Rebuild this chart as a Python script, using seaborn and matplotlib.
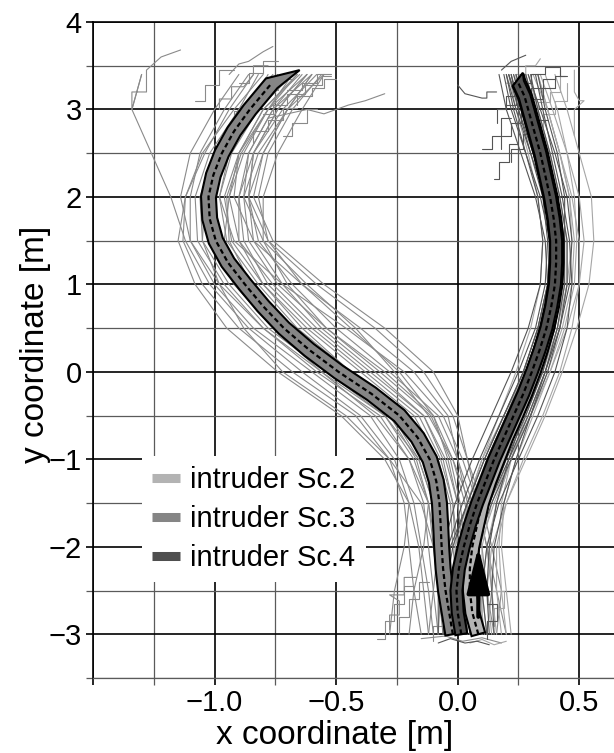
import numpy as np
import pandas as pd
import matplotlib
matplotlib.use("Agg")
import matplotlib.pyplot as plt
import seaborn as sns
from matplotlib.lines import Line2D
from matplotlib.ticker import FixedLocator, FixedFormatter, MultipleLocator

# ---------------- data ----------------
SCENARIOS = ["intruder Sc.2", "intruder Sc.3", "intruder Sc.4"]
COLORS = {"intruder Sc.2": "#b3b3b3", "intruder Sc.3": "#858585", "intruder Sc.4": "#4f4f4f"}
THIN_COLORS = {"intruder Sc.2": "#a6a6a6", "intruder Sc.3": "#8a8a8a", "intruder Sc.4": "#555555"}

Y_LEVELS = [-3.0, -2.5, -2.0, -1.5, -1.0, -0.5, 0.0, 0.5, 1.0, 1.5, 2.0, 2.5, 3.0, 3.4]

SC3_TRAJ = [
    [0.00, -0.02, -0.04, -0.05, -0.10, -0.20, -0.44, -0.66, -0.82, -0.95, -0.98, -0.93, -0.82, -0.68],
    [0.05, 0.03, 0.02, 0.00, -0.05, -0.14, -0.36, -0.58, -0.76, -0.90, -0.94, -0.90, -0.80, -0.66],
    [0.08, 0.06, 0.05, 0.04, 0.00, -0.08, -0.28, -0.50, -0.68, -0.82, -0.86, -0.84, -0.74, -0.62],
    [-0.08, -0.10, -0.12, -0.14, -0.20, -0.32, -0.58, -0.80, -0.96, -1.07, -1.08, -1.02, -0.90, -0.76],
    [-0.15, -0.18, -0.20, -0.22, -0.28, -0.42, -0.68, -0.90, -1.05, -1.13, -1.12, -1.05, -0.92, -0.80],
    [0.10, 0.10, 0.08, 0.05, -0.02, -0.12, -0.26, -0.42, -0.62, -0.80, -0.88, -0.86, -0.76, -0.60],
    [-0.05, -0.06, -0.08, -0.10, -0.16, -0.27, -0.52, -0.74, -0.90, -1.02, -1.05, -1.00, -0.88, -0.72],
    [0.12, 0.14, 0.12, 0.08, 0.02, -0.06, -0.22, -0.46, -0.72, -0.92, -0.98, -0.94, -0.83, -0.70],
    [-0.28, -0.26, -0.22, -0.20, -0.30, -0.48, -0.74, -0.95, -1.08, -1.15, -1.12, -1.04, -0.94, -0.84],
    [0.02, 0.00, -0.02, -0.03, -0.08, -0.18, -0.40, -0.62, -0.80, -0.93, -0.96, -0.90, -0.78, -0.62],
    [-0.10, -0.12, -0.15, -0.18, -0.24, -0.36, -0.60, -0.84, -1.00, -1.10, -1.10, -1.06, -0.96, -0.86],
    [0.06, 0.04, 0.02, 0.00, -0.04, -0.10, -0.30, -0.54, -0.74, -0.86, -0.88, -0.82, -0.70, -0.55],
    [-0.02, -0.06, -0.10, -0.15, -0.28, -0.46, -0.72, -0.88, -0.98, -1.05, -1.04, -0.98, -0.86, -0.74],
    [0.15, 0.12, 0.10, 0.06, 0.00, -0.04, -0.18, -0.40, -0.64, -0.84, -0.92, -0.90, -0.80, -0.65],
    [-0.04, -0.04, -0.06, -0.08, -0.12, -0.24, -0.46, -0.70, -0.86, -0.98, -1.00, -0.96, -0.86, -0.78],
    [-0.12, -0.14, -0.16, -0.20, -0.26, -0.40, -0.64, -0.86, -1.02, -1.12, -1.18, -1.26, -1.34, -1.30],
    [0.02, 0.00, -0.01, -0.02, -0.06, -0.14, -0.34, -0.56, -0.72, -0.84, -0.86, -0.80, -0.70, -0.60],
    [0.04, 0.02, 0.00, -0.02, -0.07, -0.16, -0.38, -0.60, -0.78, -0.88, -0.90, -0.86, -0.76, -0.64],
    [-0.06, -0.08, -0.10, -0.12, -0.17, -0.28, -0.50, -0.70, -0.85, -0.94, -0.95, -0.89, -0.78, -0.66],
    [0.10, 0.08, 0.06, 0.03, -0.02, -0.10, -0.24, -0.44, -0.64, -0.78, -0.82, -0.78, -0.68, -0.56],
    [-0.20, -0.18, -0.14, -0.12, -0.20, -0.34, -0.56, -0.76, -0.92, -1.02, -1.04, -0.97, -0.86, -0.72],
    [0.00, -0.03, -0.06, -0.08, -0.13, -0.22, -0.44, -0.64, -0.80, -0.90, -0.90, -0.84, -0.72, -0.58],
    [0.07, 0.05, 0.03, 0.01, -0.03, -0.11, -0.32, -0.54, -0.70, -0.80, -0.80, -0.74, -0.64, -0.55],
    [-0.12, -0.10, -0.08, -0.10, -0.16, -0.30, -0.54, -0.78, -0.94, -1.05, -1.06, -1.00, -0.90, -0.82],
    [0.16, 0.18, 0.14, 0.10, 0.04, -0.02, -0.14, -0.34, -0.58, -0.78, -0.86, -0.84, -0.74, -0.62],
    [-0.03, -0.05, -0.07, -0.09, -0.14, -0.25, -0.48, -0.72, -0.88, -0.96, -0.94, -0.88, -0.78, -0.68],
    [0.20, 0.16, 0.12, 0.08, 0.04, 0.00, -0.10, -0.30, -0.55, -0.76, -0.84, -0.80, -0.70, -0.60],
    [-0.08, -0.07, -0.09, -0.12, -0.18, -0.30, -0.56, -0.80, -0.98, -1.10, -1.14, -1.10, -1.00, -0.90],
]

SC4_TRAJ = [
    [0.00, -0.02, 0.00, 0.06, 0.13, 0.21, 0.28, 0.34, 0.38, 0.39, 0.37, 0.33, 0.28, 0.24],
    [0.04, 0.03, 0.05, 0.11, 0.19, 0.27, 0.34, 0.40, 0.43, 0.43, 0.40, 0.36, 0.31, 0.27],
    [-0.05, -0.06, -0.04, 0.02, 0.09, 0.17, 0.25, 0.32, 0.36, 0.37, 0.35, 0.30, 0.25, 0.22],
    [0.08, 0.06, 0.08, 0.14, 0.22, 0.30, 0.37, 0.42, 0.45, 0.45, 0.42, 0.38, 0.33, 0.30],
    [-0.08, -0.08, -0.06, -0.01, 0.06, 0.14, 0.22, 0.29, 0.34, 0.35, 0.33, 0.28, 0.23, 0.20],
    [0.02, 0.00, 0.03, 0.09, 0.16, 0.25, 0.33, 0.39, 0.42, 0.42, 0.39, 0.35, 0.30, 0.26],
    [0.12, 0.10, 0.12, 0.17, 0.25, 0.33, 0.40, 0.45, 0.47, 0.46, 0.43, 0.39, 0.35, 0.32],
    [-0.02, -0.04, -0.03, 0.04, 0.11, 0.19, 0.27, 0.33, 0.37, 0.38, 0.36, 0.31, 0.26, 0.22],
    [0.06, 0.05, 0.06, 0.12, 0.18, 0.26, 0.32, 0.37, 0.41, 0.44, 0.44, 0.41, 0.36, 0.33],
    [0.15, 0.14, 0.15, 0.19, 0.24, 0.30, 0.36, 0.41, 0.44, 0.44, 0.41, 0.37, 0.32, 0.28],
    [-0.04, -0.02, 0.02, 0.08, 0.14, 0.22, 0.30, 0.36, 0.40, 0.40, 0.37, 0.32, 0.26, 0.21],
    [0.03, 0.01, 0.02, 0.07, 0.14, 0.22, 0.30, 0.36, 0.39, 0.38, 0.34, 0.28, 0.22, 0.19],
    [0.10, 0.08, 0.09, 0.13, 0.20, 0.28, 0.35, 0.40, 0.42, 0.41, 0.37, 0.31, 0.25, 0.21],
    [-0.06, -0.05, -0.02, 0.04, 0.11, 0.19, 0.27, 0.33, 0.37, 0.36, 0.32, 0.26, 0.20, 0.17],
    [0.00, -0.01, 0.01, 0.06, 0.12, 0.20, 0.28, 0.35, 0.40, 0.42, 0.40, 0.35, 0.29, 0.25],
    [0.05, 0.04, 0.07, 0.13, 0.21, 0.29, 0.36, 0.42, 0.46, 0.47, 0.45, 0.40, 0.34, 0.29],
    [0.09, 0.06, 0.05, 0.08, 0.14, 0.22, 0.30, 0.37, 0.41, 0.41, 0.38, 0.33, 0.27, 0.23],
    [-0.01, 0.02, 0.06, 0.12, 0.19, 0.27, 0.34, 0.39, 0.42, 0.42, 0.39, 0.34, 0.29, 0.26],
    [0.13, 0.12, 0.13, 0.16, 0.21, 0.27, 0.33, 0.38, 0.41, 0.40, 0.36, 0.30, 0.24, 0.20],
]

SC2_TRAJ = [
    [0.08, 0.05, 0.06, 0.10, 0.17, 0.25, 0.32, 0.38, 0.41, 0.41, 0.39, 0.35, 0.30, 0.26],
    [0.12, 0.10, 0.10, 0.14, 0.21, 0.29, 0.36, 0.42, 0.45, 0.45, 0.42, 0.38, 0.33, 0.29],
    [0.04, 0.02, 0.03, 0.07, 0.13, 0.20, 0.27, 0.33, 0.37, 0.38, 0.36, 0.32, 0.27, 0.24],
    [0.18, 0.16, 0.16, 0.20, 0.27, 0.35, 0.42, 0.47, 0.50, 0.50, 0.47, 0.42, 0.37, 0.33],
    [0.00, -0.02, -0.01, 0.04, 0.10, 0.17, 0.24, 0.30, 0.34, 0.35, 0.33, 0.29, 0.24, 0.21],
    [0.14, 0.12, 0.14, 0.20, 0.28, 0.36, 0.43, 0.49, 0.54, 0.56, 0.55, 0.50, 0.45, 0.40],
    [0.10, 0.08, 0.08, 0.12, 0.18, 0.26, 0.34, 0.40, 0.43, 0.42, 0.40, 0.36, 0.31, 0.28],
    [0.06, 0.03, 0.01, 0.04, 0.10, 0.19, 0.28, 0.35, 0.39, 0.40, 0.37, 0.33, 0.28, 0.24],
    [0.20, 0.18, 0.17, 0.18, 0.22, 0.28, 0.35, 0.41, 0.45, 0.47, 0.46, 0.42, 0.37, 0.31],
    [0.02, 0.04, 0.08, 0.13, 0.19, 0.26, 0.33, 0.39, 0.42, 0.43, 0.41, 0.37, 0.32, 0.28],
    [0.16, 0.14, 0.13, 0.16, 0.22, 0.29, 0.36, 0.41, 0.44, 0.43, 0.39, 0.33, 0.27, 0.23],
    [0.05, 0.06, 0.09, 0.15, 0.22, 0.30, 0.37, 0.43, 0.47, 0.48, 0.46, 0.42, 0.37, 0.33],
    [0.11, 0.09, 0.07, 0.09, 0.14, 0.21, 0.29, 0.36, 0.41, 0.42, 0.40, 0.36, 0.31, 0.27],
    [0.22, 0.20, 0.18, 0.19, 0.24, 0.31, 0.38, 0.44, 0.48, 0.49, 0.48, 0.45, 0.41, 0.36],
    [0.02, 0.00, 0.00, 0.05, 0.12, 0.20, 0.28, 0.34, 0.38, 0.39, 0.37, 0.33, 0.29, 0.26],
    [0.09, 0.10, 0.12, 0.16, 0.22, 0.30, 0.38, 0.45, 0.50, 0.52, 0.50, 0.45, 0.39, 0.34],
]

# jagged (noisy tracking) pieces: (scenario, x list, y list)
JAGGED = [
    ("intruder Sc.3", [-0.92, -0.92, -0.86, -0.86, -0.80, -0.80, -0.74, -0.74, -0.68], [2.85, 2.98, 2.98, 3.10, 3.10, 3.22, 3.22, 3.35, 3.35]),
    ("intruder Sc.3", [-0.80, -0.76, -0.76, -0.70, -0.70, -0.63, -0.63, -0.56, -0.56, -0.52], [2.95, 2.95, 3.05, 3.05, 3.18, 3.18, 3.28, 3.28, 3.38, 3.38]),
    ("intruder Sc.3", [-0.98, -0.98, -0.93, -0.93, -0.88, -0.84, -0.84, -0.78], [3.00, 3.12, 3.12, 3.26, 3.26, 3.40, 3.50, 3.50]),
    ("intruder Sc.3", [-0.78, -0.62, -0.55, -0.45, -0.38, -0.30], [2.90, 3.00, 2.95, 3.05, 3.10, 3.18]),
    ("intruder Sc.3", [-0.72, -0.68, -0.68, -0.62, -0.62, -0.58], [2.70, 2.70, 2.85, 2.85, 3.00, 3.00]),
    ("intruder Sc.3", [-1.30, -1.34, -1.34, -1.28, -1.28, -1.22, -1.14], [3.40, 3.00, 3.20, 3.20, 3.45, 3.60, 3.68]),
    ("intruder Sc.3", [-0.66, -0.66, -0.60, -0.60, -0.55, -0.55, -0.50], [3.05, 3.15, 3.15, 3.25, 3.25, 3.35, 3.35]),
    ("intruder Sc.3", [-0.90, -0.86, -0.86, -0.80, -0.80, -0.74], [3.30, 3.30, 3.42, 3.42, 3.55, 3.55]),
    ("intruder Sc.3", [-0.84, -0.84, -0.78, -0.78, -0.72, -0.72, -0.66], [2.62, 2.75, 2.75, 2.88, 2.88, 3.02, 3.02]),
    ("intruder Sc.3", [-0.70, -0.64, -0.64, -0.58, -0.58, -0.52], [3.22, 3.22, 3.30, 3.30, 3.40, 3.40]),
    ("intruder Sc.3", [-0.94, -0.90, -0.86, -0.80, -0.76], [3.40, 3.52, 3.55, 3.66, 3.72]),
    ("intruder Sc.3", [-1.08, -1.04, -1.04, -0.98, -0.98, -0.92], [3.10, 3.10, 3.28, 3.28, 3.45, 3.45]),
    ("intruder Sc.3", [-0.33, -0.30, -0.30, -0.26, -0.26, -0.22, -0.22, -0.18], [-3.05, -3.05, -2.85, -2.85, -2.65, -2.65, -2.45, -2.45]),
    ("intruder Sc.3", [-0.24, -0.24, -0.20, -0.20, -0.16, -0.16, -0.12], [-3.00, -2.80, -2.80, -2.60, -2.60, -2.40, -2.40]),
    ("intruder Sc.3", [-0.15, -0.05, 0.02, 0.10, 0.18], [-3.05, -3.02, -3.08, -3.04, -3.10]),
    ("intruder Sc.3", [-0.28, -0.28, -0.24, -0.24, -0.28, -0.22, -0.22, -0.17], [-2.95, -2.78, -2.78, -2.62, -2.55, -2.55, -2.35, -2.35]),
    ("intruder Sc.3", [-0.10, -0.10, -0.06, -0.06, -0.02, -0.02], [-3.08, -2.90, -2.90, -2.72, -2.72, -2.55]),
    ("intruder Sc.4", [0.18, 0.18, 0.22, 0.22, 0.26, 0.26, 0.30], [2.55, 2.70, 2.70, 2.85, 2.85, 3.00, 3.00]),
    ("intruder Sc.4", [0.20, 0.24, 0.24, 0.30, 0.30, 0.35, 0.35, 0.40], [3.05, 3.05, 3.15, 3.15, 3.25, 3.25, 3.35, 3.35]),
    ("intruder Sc.2", [0.28, 0.33, 0.33, 0.38, 0.38, 0.42, 0.42], [2.95, 2.95, 3.08, 3.08, 3.20, 3.20, 3.45]),
    ("intruder Sc.4", [0.15, 0.17, 0.17, 0.21, 0.21, 0.25], [2.20, 2.20, 2.40, 2.40, 2.60, 2.60]),
    ("intruder Sc.2", [0.48, 0.48, 0.52, 0.50, 0.48, 0.48], [2.70, 3.00, 3.10, 3.10, 3.20, 3.45]),
    ("intruder Sc.4", [0.00, 0.03, 0.10, 0.12, 0.12, 0.16], [3.28, 3.18, 3.13, 3.13, 3.20, 3.20]),
    ("intruder Sc.4", [0.22, 0.22, 0.27, 0.27, 0.32, 0.32, 0.37], [2.40, 2.55, 2.55, 2.72, 2.72, 2.88, 2.88]),
    ("intruder Sc.4", [0.30, 0.30, 0.35, 0.35, 0.40, 0.40, 0.44], [3.00, 3.12, 3.12, 3.25, 3.25, 3.38, 3.38]),
    ("intruder Sc.4", [0.16, 0.16, 0.20, 0.20, 0.25, 0.25], [2.85, 3.00, 3.00, 3.15, 3.15, 3.35]),
    ("intruder Sc.4", [0.26, 0.30, 0.30, 0.36, 0.36, 0.42, 0.42, 0.45], [3.30, 3.30, 3.40, 3.40, 3.48, 3.48, 3.38, 3.38]),
    ("intruder Sc.2", [0.35, 0.35, 0.40, 0.40, 0.45, 0.45], [2.80, 2.95, 2.95, 3.10, 3.10, 3.30]),
    ("intruder Sc.2", [0.20, 0.24, 0.24, 0.28, 0.28, 0.32, 0.34], [3.30, 3.30, 3.40, 3.40, 3.50, 3.50, 3.58]),
    ("intruder Sc.4", [0.10, 0.14, 0.14, 0.18, 0.18, 0.22], [2.55, 2.55, 2.70, 2.70, 2.90, 2.90]),
    ("intruder Sc.4", [0.18, 0.22, 0.28], [3.45, 3.55, 3.62]),
    ("intruder Sc.2", [0.15, 0.15, 0.19, 0.19, 0.14, 0.14], [-2.90, -2.70, -2.70, -2.50, -2.50, -2.35]),
    ("intruder Sc.4", [-0.08, -0.03, 0.03, 0.08, 0.13], [-3.10, -3.05, -3.10, -3.08, -3.12]),
    ("intruder Sc.4", [0.12, 0.12, 0.16, 0.16, 0.12, 0.12], [-3.05, -2.85, -2.85, -2.65, -2.65, -2.45]),
    ("intruder Sc.2", [0.05, 0.10, 0.15, 0.20], [-3.10, -3.06, -3.12, -3.08]),
]

MEAN_Y = [-3.0, -2.75, -2.5, -2.25, -2.0, -1.75, -1.5, -1.25, -1.0, -0.75, -0.5, -0.25, 0.0,
          0.25, 0.5, 0.75, 1.0, 1.25, 1.5, 1.75, 2.0, 2.25, 2.5, 2.75, 3.0, 3.15, 3.3]
MEAN_SC3 = [-0.02, -0.035, -0.05, -0.06, -0.066, -0.07, -0.075, -0.088, -0.115, -0.165, -0.24, -0.355, -0.49,
            -0.61, -0.715, -0.80, -0.875, -0.945, -0.995, -1.02, -1.025, -1.005, -0.97, -0.92, -0.855, -0.81, -0.765]
MEAN_SC4 = [0.015, 0.0, -0.005, 0.005, 0.025, 0.05, 0.08, 0.115, 0.15, 0.19, 0.23, 0.27, 0.305,
            0.337, 0.365, 0.385, 0.40, 0.405, 0.405, 0.395, 0.38, 0.36, 0.34, 0.315, 0.29, 0.275, 0.25]
MEAN_SC2 = [0.085, 0.06, 0.05, 0.05, 0.06, 0.08, 0.10, 0.13, 0.165, 0.20, 0.24, 0.278, 0.312,
            0.342, 0.368, 0.388, 0.402, 0.407, 0.407, 0.397, 0.382, 0.362, 0.342, 0.317, 0.292, 0.277, 0.252]
TIPS = {"intruder Sc.3": (-0.65, 3.45), "intruder Sc.4": (0.268, 3.42), "intruder Sc.2": (0.27, 3.41)}

ARROW_X = 0.085
ARROW_Y0, ARROW_Y1 = -2.80, -2.0

# ---------------- figure ----------------
sns.set_theme(style="white")
plt.rcParams["font.family"] = ["Liberation Sans", "DejaVu Sans"]
for key in ("text.color", "axes.labelcolor", "xtick.color", "ytick.color"):
    plt.rcParams[key] = "black"

fig = plt.figure(figsize=(6.14, 7.53), dpi=100)
ax = fig.add_axes([93 / 614, 1 - 678 / 753, (614 - 93) / 614, (678 - 22) / 753])
ax.set_xlim(-1.5, 0.643)
ax.set_ylim(-3.5, 4.0)

# long-form table of thin trajectories
rows = []
tid = 0
for scen, trajs in (("intruder Sc.3", SC3_TRAJ), ("intruder Sc.2", SC2_TRAJ), ("intruder Sc.4", SC4_TRAJ)):
    for tr in trajs:
        for i, (xv, yv) in enumerate(zip(tr, Y_LEVELS)):
            rows.append({"x": xv, "y": yv, "traj": tid, "order": i, "scenario": scen})
        tid += 1
for scen, xs, ys in JAGGED:
    for i, (xv, yv) in enumerate(zip(xs, ys)):
        rows.append({"x": xv, "y": yv, "traj": tid, "order": i, "scenario": scen})
    tid += 1
df = pd.DataFrame(rows)

sns.lineplot(data=df, x="x", y="y", units="traj", estimator=None, sort=False,
             hue="scenario", palette=THIN_COLORS, lw=0.8, legend=False, ax=ax, zorder=2)
ax.set_xlim(-1.5, 0.643)
ax.set_ylim(-3.5, 4.0)


def band(xs, ys, tip, hw_px, color, z):
    pts = ax.transData.transform(np.column_stack([xs, ys]))
    d = np.gradient(pts, axis=0)
    d /= np.linalg.norm(d, axis=1)[:, None]
    nrm = np.column_stack([-d[:, 1], d[:, 0]])
    left = pts + nrm * hw_px
    right = pts - nrm * hw_px
    tip_px = ax.transData.transform([tip])
    poly = ax.transData.inverted().transform(np.vstack([left, tip_px, right[::-1]]))
    ax.fill(poly[:, 0], poly[:, 1], facecolor=color, edgecolor="black", lw=1.5, zorder=z)
    ax.plot(xs, ys, color="black", lw=1.6, ls=(0, (2.2, 1.4)), zorder=z + 0.1)


band(MEAN_SC3, MEAN_Y, TIPS["intruder Sc.3"], 7.5, COLORS["intruder Sc.3"], 4)
band(MEAN_SC2, MEAN_Y, TIPS["intruder Sc.2"], 7.0, COLORS["intruder Sc.2"], 5)
band(MEAN_SC4, MEAN_Y, TIPS["intruder Sc.4"], 6.0, COLORS["intruder Sc.4"], 6)

ax.annotate("", xy=(ARROW_X, ARROW_Y1), xytext=(ARROW_X, ARROW_Y0),
            arrowprops=dict(arrowstyle="-|>,head_length=1.4,head_width=0.35", lw=3,
                            color="black", mutation_scale=20, shrinkA=0, shrinkB=0),
            zorder=8)

# ticks & grid
ax.xaxis.set_major_locator(FixedLocator([-1.5, -1.0, -0.5, 0.0, 0.5]))
ax.xaxis.set_major_formatter(FixedFormatter(["", "\u22121.0", "\u22120.5", "0.0", "0.5"]))
ax.xaxis.set_minor_locator(FixedLocator([-1.25, -0.75, -0.25, 0.25]))
ax.yaxis.set_major_locator(MultipleLocator(1.0))
ax.yaxis.set_minor_locator(FixedLocator([-3.5, -2.5, -1.5, -0.5, 0.5, 1.5, 2.5, 3.5]))
ax.grid(which="major", color="black", lw=1.2)
ax.grid(which="minor", color="#5a5a5a", lw=0.9)
ax.set_axisbelow(True)
ax.tick_params(which="major", direction="out", length=5, width=1.2, color="black",
               labelcolor="black", labelsize=21, pad=3, left=True, bottom=True)
ax.tick_params(which="minor", direction="out", length=5, width=0.9, color="#5a5a5a",
               left=True, bottom=True)
ax.spines["right"].set_visible(False)
ax.spines["left"].set_color("black"); ax.spines["left"].set_linewidth(1.2)
ax.spines["top"].set_color("black"); ax.spines["top"].set_linewidth(1.2)
ax.spines["bottom"].set_color("#5a5a5a"); ax.spines["bottom"].set_linewidth(0.9)

ax.set_xlabel("x coordinate [m]", fontsize=24, va="center", color="black")
ax.set_ylabel("y coordinate [m]", fontsize=24, va="center", color="black")
ax.xaxis.set_label_coords(0.464, -0.087)
ax.yaxis.set_label_coords(-0.111, 0.508)

handles = [Line2D([0], [0], color=COLORS[s], lw=6.5, solid_capstyle="butt") for s in SCENARIOS]
leg = ax.legend(handles, SCENARIOS, loc="upper left", bbox_to_anchor=(0.094, 0.339),
                fontsize=21, frameon=True, framealpha=1, facecolor="white", edgecolor="none",
                borderaxespad=0, borderpad=0.35, handlelength=0.95, handletextpad=0.35,
                labelspacing=0.38, fancybox=False)
for t in leg.get_texts():
    t.set_color("black")
leg.set_zorder(10)

fig.savefig("out.png", dpi=100)
